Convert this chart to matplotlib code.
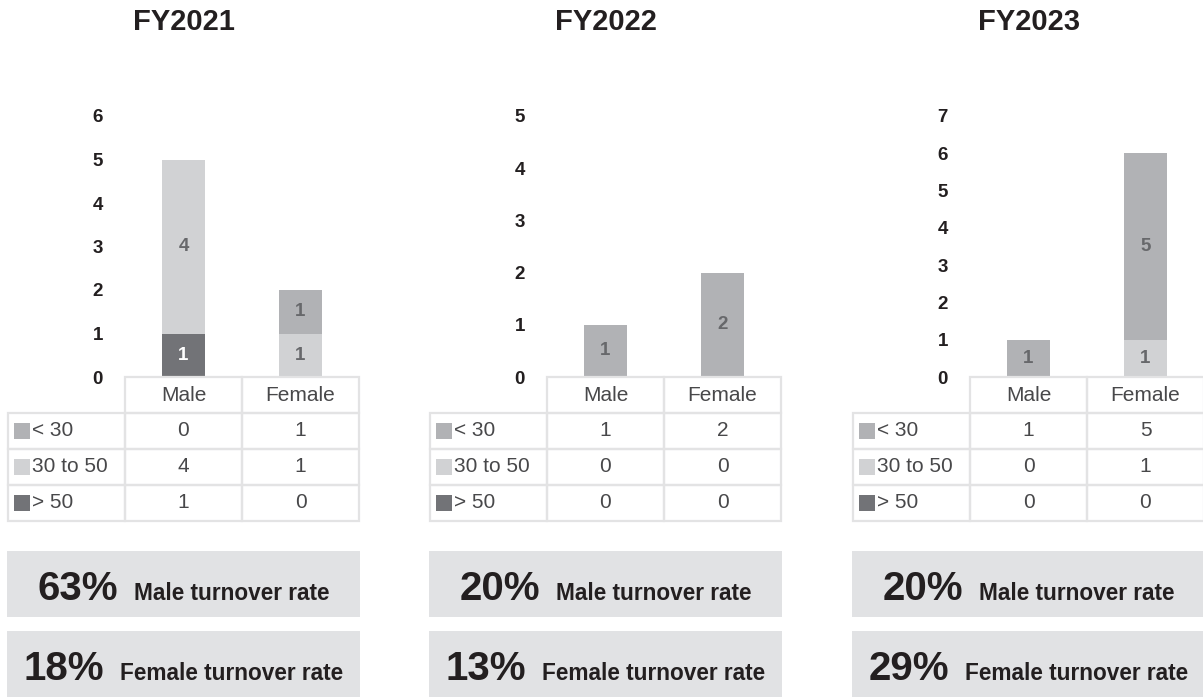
import matplotlib
matplotlib.use("Agg")
import matplotlib.pyplot as plt
from matplotlib.patches import Rectangle

plt.rcParams['font.family'] = ['Liberation Sans', 'DejaVu Sans']

# ---- data -------------------------------------------------------------
years = ["FY2021", "FY2022", "FY2023"]
genders = ["Male", "Female"]
age_groups = ["< 30", "30 to 50", "> 50"]

under_30 = [[0, 1], [1, 2], [1, 5]]
age_30_50 = [[4, 1], [0, 0], [0, 1]]
over_50 = [[1, 0], [0, 0], [0, 0]]

y_max = [6, 5, 7]
male_rate = [63, 20, 20]
female_rate = [18, 13, 29]

# ---- style ------------------------------------------------------------
colors = {"< 30": "#b1b2b5", "30 to 50": "#d1d2d4", "> 50": "#727377"}
label_colors = {"< 30": "#67686b", "30 to 50": "#67686b", "> 50": "#ffffff"}
dark = "#231f20"
table_text = "#48484a"
grid_col = "#e3e3e4"
box_col = "#e1e2e4"

W, H = 1203, 697
fig = plt.figure(figsize=(W / 100, H / 100), dpi=100)


def fx(px):
    return px / W


def fy(py):
    return 1 - py / H


panel_left = [8, 430, 853]
label_w = 117
col_w = 117
axis_top, axis_zero = 116, 377
row_edges = [377, 413, 449, 485, 521]

rate_texts = []

for i, year in enumerate(years):
    x0 = panel_left[i]
    ax_left = x0 + label_w
    ax = fig.add_axes([fx(ax_left), fy(axis_zero),
                       (2 * col_w) / W, (axis_zero - axis_top) / H])

    values = {"< 30": under_30[i], "30 to 50": age_30_50[i], "> 50": over_50[i]}
    xs = list(range(len(genders)))
    bottom = [0] * len(genders)
    for grp in ["> 50", "30 to 50", "< 30"]:
        vals = values[grp]
        bars = ax.bar(xs, vals, width=0.375, bottom=bottom,
                      color=colors[grp], linewidth=0)
        ax.bar_label(bars, labels=[str(v) if v else "" for v in vals],
                     label_type="center", color=label_colors[grp],
                     fontsize=13.5, fontweight="bold")
        bottom = [b + v for b, v in zip(bottom, vals)]

    ax.set_xlim(-0.5, len(genders) - 0.5)
    ax.set_ylim(0, y_max[i])
    ax.set_yticks(range(0, y_max[i] + 1))
    ax.set_xticks([])
    ax.tick_params(axis="y", length=0, pad=16, labelsize=13.5, labelcolor=dark)
    for lab in ax.get_yticklabels():
        lab.set_fontweight("bold")
    for s in ax.spines.values():
        s.set_visible(False)
    ax.patch.set_alpha(0)

    # title
    fig.text(fx(x0 + (label_w + 2 * col_w) / 2), fy(22), year,
             ha="center", va="center", fontsize=21, fontweight="bold", color=dark)

    # table header
    for j, g in enumerate(genders):
        cx = ax_left + j * col_w
        fig.patches.append(Rectangle((fx(cx), fy(row_edges[1])), col_w / W,
                                     (row_edges[1] - row_edges[0]) / H,
                                     transform=fig.transFigure, facecolor="none",
                                     edgecolor=grid_col, linewidth=1.6))
        fig.text(fx(cx + col_w / 2), fy((row_edges[0] + row_edges[1]) / 2), g,
                 ha="center", va="center", fontsize=15, color=table_text)

    # table body
    for r, grp in enumerate(age_groups):
        top, bot = row_edges[r + 1], row_edges[r + 2]
        cy = (top + bot) / 2
        fig.patches.append(Rectangle((fx(x0), fy(bot)), label_w / W, (bot - top) / H,
                                     transform=fig.transFigure, facecolor="none",
                                     edgecolor=grid_col, linewidth=1.6))
        fig.patches.append(Rectangle((fx(x0 + 6), fy(cy + 8)), 16 / W, 16 / H,
                                     transform=fig.transFigure,
                                     facecolor=colors[grp], linewidth=0))
        fig.text(fx(x0 + 24), fy(cy), grp, ha="left", va="center",
                 fontsize=15, color=table_text)
        for j in range(len(genders)):
            cx = ax_left + j * col_w
            fig.patches.append(Rectangle((fx(cx), fy(bot)), col_w / W, (bot - top) / H,
                                         transform=fig.transFigure, facecolor="none",
                                         edgecolor=grid_col, linewidth=1.6))
            fig.text(fx(cx + col_w / 2), fy(cy), str(values[grp][j]),
                     ha="center", va="center", fontsize=15, color=table_text)

    # turnover boxes
    box_w = label_w + 2 * col_w + 2
    for (btop, bbot), rate, name in [((551, 617), male_rate[i], "Male turnover rate"),
                                     ((631, 697), female_rate[i], "Female turnover rate")]:
        fig.patches.append(Rectangle((fx(x0 - 1), fy(bbot)), box_w / W, (bbot - btop) / H,
                                     transform=fig.transFigure, facecolor=box_col,
                                     linewidth=0, zorder=0))
        baseline = (btop + bbot) / 2 + 16
        t1 = fig.text(0, fy(baseline), f"{rate}%", ha="left", va="baseline",
                      fontsize=29, fontweight="bold", color=dark)
        t2 = fig.text(0, fy(baseline), name, ha="left", va="baseline",
                      fontsize=16.3, fontweight="bold", color=dark)
        rate_texts.append((t1, t2, x0 - 1 + box_w / 2))

# centre each "rate + caption" pair inside its box
fig.canvas.draw()
renderer = fig.canvas.get_renderer()
gap = 16
for t1, t2, centre in rate_texts:
    w1 = t1.get_window_extent(renderer).width
    w2 = t2.get_window_extent(renderer).width
    start = centre - (w1 + gap + w2) / 2
    t1.set_x(fx(start))
    t2.set_x(fx(start + w1 + gap))

fig.savefig("out.png", dpi=100)
